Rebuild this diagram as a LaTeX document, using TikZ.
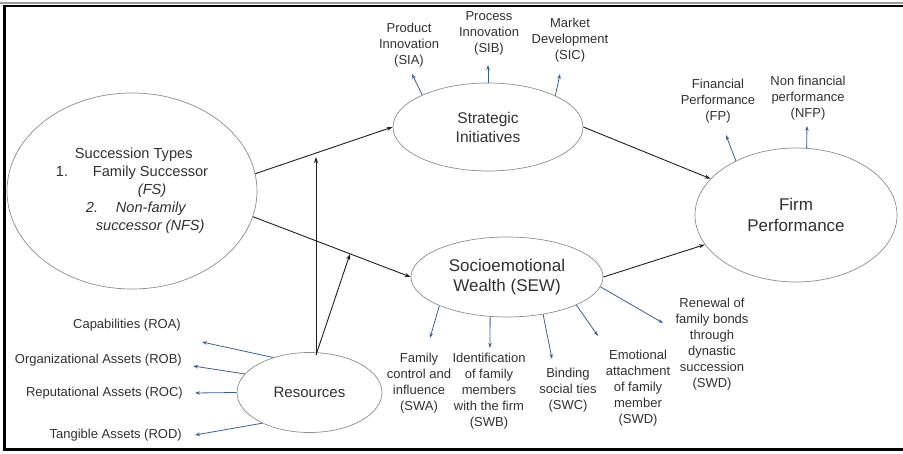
\documentclass[tikz,border=0pt]{standalone}
\usepackage{fontspec}
\setmainfont{Liberation Sans}
\usetikzlibrary{shapes.geometric,arrows.meta}

\definecolor{ink}{HTML}{303030}
\definecolor{ovalgray}{HTML}{8C8C8C}
\definecolor{linkblack}{HTML}{1E1E1E}
\definecolor{facetblue}{HTML}{3B5E98}
\definecolor{framegray}{HTML}{9A9A9A}

\begin{document}
\begin{tikzpicture}[x=1pt,y=-1pt,
  oval/.style={draw=ovalgray, line width=0.7pt, ellipse, inner sep=0pt, text=ink},
  lbl/.style={align=center, text=ink, inner sep=0pt, font=\fontsize{13}{16}\selectfont},
  sidelbl/.style={anchor=east, text=ink, inner sep=0pt, font=\fontsize{13}{16}\selectfont},
  link/.style={draw=linkblack, line width=0.9pt, -{Stealth[length=6pt,width=4pt]}},
  facet/.style={draw=facetblue, line width=0.8pt, -{Stealth[length=5pt,width=3.5pt]}},
]
\useasboundingbox (0,0) rectangle (903,454);

% outer frame
\draw[framegray, line width=1.2pt] (0,3) -- (903,3);
\draw[black, line width=2pt] (3,6) -- (903,6);
\draw[black, line width=3pt] (4.5,5) -- (4.5,450);
\draw[black, line width=3pt] (3,449.5) -- (903,449.5);

% main constructs
\node[oval, minimum width=250pt, minimum height=196pt, align=left,
      font=\fontsize{14.6}{18}\selectfont] (succ) at (132,191)
  {\hspace*{19pt}Succession Types\\
   \makebox[37pt][l]{1.}Family Successor\\
   \hspace*{82pt}\textit{(FS)}\\
   \hspace*{30pt}\makebox[30pt][l]{\textit{2.}}\textit{Non-family}\\
   \hspace*{40pt}\textit{successor (NFS)}};

\node[oval, minimum width=190pt, minimum height=88pt, align=center,
      font=\fontsize{15.5}{19}\selectfont] (st) at (488,127)
  {Strategic\\Initiatives};

\node[oval, minimum width=192pt, minimum height=80pt, align=center,
      font=\fontsize{17}{20}\selectfont] (sew) at (507,277)
  {Socioemotional\\Wealth (SEW)};

\node[oval, minimum width=202pt, minimum height=134pt, align=center,
      font=\fontsize{17}{21}\selectfont] (firm) at (796,215)
  {Firm\\Performance};

\node[oval, minimum width=145pt, minimum height=80pt,
      font=\fontsize{15}{18}\selectfont] (res) at (309.5,392.5)
  {Resources};

% dimension labels
\node[lbl] (sia) at (409,45) {Product\\Innovation\\(SIA)};
\node[lbl] (sib) at (489,33) {Process\\Innovation\\(SIB)};
\node[lbl] (sic) at (570,40) {Market\\Development\\(SIC)};
\node[lbl] (fp) at (718,101) {Financial\\Performance\\(FP)};
\node[lbl] (nfp) at (808,98) {Non financial\\performance\\(NFP)};

\node[lbl] (swa) at (419,383) {Family\\control and\\influence\\(SWA)};
\node[lbl] (swb) at (489,391) {Identification\\of family\\members\\with the firm\\(SWB)};
\node[lbl] (swc) at (568,390) {Binding\\social ties\\(SWC)};
\node[lbl] (swd) at (638,388) {Emotional\\attachment\\of family\\member\\(SWD)};
\node[lbl] (swe) at (712,344) {Renewal of\\family bonds\\through\\dynastic\\succession\\(SWD)};

\node[sidelbl] (roa) at (181,325) {Capabilities (ROA)};
\node[sidelbl] (rob) at (182,360) {Organizational Assets (ROB)};
\node[sidelbl] (roc) at (183,393) {Reputational Assets (ROC)};
\node[sidelbl] (rod) at (182,435) {Tangible Assets (ROD)};

% arrow tips near the labels and the moderated paths
\coordinate (sia-tip) at (412,74);
\coordinate (sib-tip) at (488,65);
\coordinate (sic-tip) at (560,74);
\coordinate (fp-tip) at (726,135);
\coordinate (nfp-tip) at (807,126);
\coordinate (swa-tip) at (430,338);
\coordinate (swb-tip) at (490,348);
\coordinate (swc-tip) at (552,359);
\coordinate (swd-tip) at (598,336);
\coordinate (swe-tip) at (663,323);
\coordinate (roa-tip) at (202,342);
\coordinate (rob-tip) at (193,366);
\coordinate (roc-tip) at (195,393);
\coordinate (rod-tip) at (195,435);
\coordinate (res-top) at (316,355);
\coordinate (mod-st) at (316,157);
\coordinate (mod-sew) at (350,254);

% structural paths
\draw[link] (succ.8) -- (st.west);
\draw[link] (succ.-12.5) -- (sew.west);
\draw[link] (st.east) -- (firm.157);
\draw[link] (sew.east) -- (firm.198);
\draw[link] (res-top) -- (mod-st);
\draw[link] (res-top) -- (mod-sew);

% dimensions of each construct
\draw[facet] (st.154.5) -- (sia-tip);
\draw[facet] (st.north) -- (sib-tip);
\draw[facet] (st.25) -- (sic-tip);
\draw[facet] (firm.138) -- (fp-tip);
\draw[facet] (firm.81) -- (nfp-tip);
\draw[facet] (sew.203.5) -- (swa-tip);
\draw[facet] (sew.247) -- (swb-tip);
\draw[facet] (sew.-46.7) -- (swc-tip);
\draw[facet] (sew.-22.4) -- (swd-tip);
\draw[facet] (sew.-6) -- (swe-tip);
\draw[facet] (res.136) -- (roa-tip);
\draw[facet] (res.164) -- (rob-tip);
\draw[facet] (res.west) -- (roc-tip);
\draw[facet] (res.213) -- (rod-tip);
\end{tikzpicture}
\end{document}
